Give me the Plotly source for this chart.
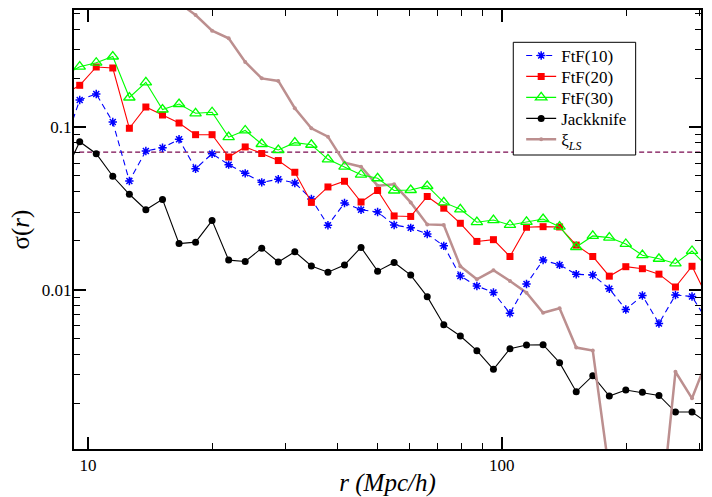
import plotly.graph_objects as go

# separation bins r (Mpc/h), log-spaced
r = [8.710, 9.550, 10.47, 11.48, 12.59, 13.80, 15.14, 16.60, 18.20, 19.95,
     21.88, 23.99, 26.30, 28.84, 31.62, 34.67, 38.02, 41.69, 45.71, 50.12,
     54.95, 60.26, 66.07, 72.44, 79.43, 87.10, 95.50, 104.7, 114.8, 125.9,
     138.0, 151.4, 166.0, 182.0, 199.5, 218.8, 239.9, 263.0, 288.4, 316.2]

ftf10 = [0.0743, 0.1466, 0.1595, 0.1073, 0.0466, 0.0712, 0.0746, 0.0840, 0.0554, 0.0685,
         0.0587, 0.0519, 0.0457, 0.0477, 0.0453, 0.0361, 0.0249, 0.0341, 0.0310, 0.0300,
         0.0250, 0.0240, 0.0220, 0.0186, 0.01214, 0.01054, 0.00961, 0.00716, 0.01084, 0.0152,
         0.0142, 0.01244, 0.01231, 0.01014, 0.00755, 0.00921, 0.00620, 0.00928, 0.00908, 0.00624]

ftf20 = [0.1573, 0.1804, 0.2338, 0.2305, 0.0982, 0.1327, 0.1185, 0.1058, 0.0897, 0.0897,
         0.0654, 0.0754, 0.0687, 0.0622, 0.0527, 0.0344, 0.0428, 0.0464, 0.0346, 0.0407,
         0.0284, 0.0282, 0.0374, 0.0317, 0.0256, 0.0198, 0.0203, 0.0160, 0.0242, 0.0244,
         0.0243, 0.0188, 0.0160, 0.01211, 0.01385, 0.01346, 0.01246, 0.01039, 0.01393, 0.00864]

ftf30 = [0.2058, 0.2348, 0.2484, 0.2713, 0.1518, 0.1883, 0.1281, 0.1385, 0.1214, 0.1233,
         0.0866, 0.0952, 0.0786, 0.0722, 0.0801, 0.0778, 0.0633, 0.0570, 0.0509, 0.0484,
         0.0407, 0.0410, 0.0434, 0.0344, 0.0312, 0.0260, 0.0268, 0.0250, 0.0261, 0.0272,
         0.0244, 0.0183, 0.0214, 0.0209, 0.0191, 0.0163, 0.0155, 0.0145, 0.0173, 0.0136]

jackknife = [0.0493, 0.0812, 0.0685, 0.0498, 0.0386, 0.0310, 0.0359, 0.0192, 0.0196, 0.0266,
             0.0152, 0.0149, 0.0180, 0.0148, 0.0171, 0.0140, 0.0128, 0.0142, 0.0182, 0.0130,
             0.0147, 0.0123, 0.00906, 0.00609, 0.00519, 0.00422, 0.00324, 0.00434, 0.00457, 0.00459,
             0.00356, 0.00236, 0.00296, 0.00222, 0.00242, 0.00234, 0.00224, 0.00177, 0.00177, 0.00150]

xi_ls = [None, None, None, None, None, None, None, 0.578, 0.488, 0.391,
         0.351, 0.251, 0.199, 0.192, 0.1305, 0.0982, 0.0872, 0.0603, 0.0570, 0.0436,
         0.0444, 0.0344, 0.0252, 0.0250, 0.01393, 0.01158, 0.01316, 0.01131, 0.00958, 0.00722,
         0.00768, 0.00441, 0.00423, 0.00075, None, None, 0.00032, 0.00313, 0.00215, 0.00391]

ref_level = 0.07

x_ticks = [10, 100]
x_ticktext = ["10", "100"]
x_minor = [20, 30, 40, 50, 60, 70, 80, 90, 200, 300]
y_ticks = [0.01, 0.1]
y_ticktext = ["0.01", "0.1"]
y_minor = [0.002, 0.003, 0.004, 0.005, 0.006, 0.007, 0.008, 0.009,
           0.02, 0.03, 0.04, 0.05, 0.06, 0.07, 0.08, 0.09, 0.2, 0.3, 0.4, 0.5]

SERIF = "'Liberation Serif', 'Times New Roman', Times, 'DejaVu Serif', serif"

fig = go.Figure()

# horizontal reference level
fig.add_trace(go.Scatter(
    x=[r[0], r[-1]], y=[ref_level, ref_level], mode="lines",
    line=dict(color="#7a0a50", width=1.2, dash="5px,3px"),
    showlegend=False, hoverinfo="skip"))

fig.add_trace(go.Scatter(
    x=r, y=jackknife, mode="lines+markers", name="Jackknife", legend="legend4",
    line=dict(color="black", width=1.1),
    marker=dict(symbol="circle", size=7, color="black")))

fig.add_trace(go.Scatter(
    x=r, y=xi_ls, mode="lines+markers", name="ξ<sub><i>LS</i></sub>", legend="legend5",
    line=dict(color="#bc8f8f", width=2.5),
    marker=dict(symbol="circle", size=4, color="#bc8f8f"),
    connectgaps=False))

fig.add_trace(go.Scatter(
    x=r, y=ftf10, mode="lines+markers", name="FtF(10)", legend="legend",
    line=dict(color="#0000ff", width=1.1, dash="6px,4px"),
    marker=dict(symbol="asterisk-open", size=7, line=dict(color="#0000ff", width=1.5))))

fig.add_trace(go.Scatter(
    x=r, y=ftf20, mode="lines+markers", name="FtF(20)", legend="legend2",
    line=dict(color="#ff0000", width=1.1),
    marker=dict(symbol="square", size=7, color="#ff0000")))

fig.add_trace(go.Scatter(
    x=r, y=ftf30, mode="lines+markers", name="FtF(30)", legend="legend3",
    line=dict(color="#00ff00", width=1.1),
    marker=dict(symbol="triangle-up-open", size=10, color="#00ff00",
                line=dict(color="#00ff00", width=1.3))))

axis_common = dict(
    type="log", showline=True, linewidth=2, linecolor="black", mirror="ticks",
    ticks="inside", ticklen=12, tickwidth=1.5, tickcolor="black",
    showgrid=False, zeroline=False, automargin=False,
    tickfont=dict(family=SERIF, size=17, color="black"),
)

fig.update_xaxes(
    **axis_common,
    range=[0.9662, 2.4817],
    tickmode="array", tickvals=x_ticks, ticktext=x_ticktext,
    minor=dict(ticks="inside", ticklen=6, tickwidth=1.2, tickcolor="black",
               tickmode="array", tickvals=x_minor, showgrid=False),
    title=dict(text="<i>r (Mpc/h)</i>", font=dict(family=SERIF, size=25, color="black"),
               standoff=10),
)

fig.update_yaxes(
    **axis_common,
    range=[-2.9791, -0.2809],
    tickmode="array", tickvals=y_ticks, ticktext=y_ticktext,
    ticklabelstandoff=-3,
    minor=dict(ticks="inside", ticklen=6, tickwidth=1.2, tickcolor="black",
               tickmode="array", tickvals=y_minor, showgrid=False),
    title=dict(text="σ(<i>r</i>)", font=dict(family=SERIF, size=25, color="black"),
               standoff=5),
)

# one legend per entry so rows can sit at a tight pitch inside a shared frame
legend_rows = [0.8955, 0.8477, 0.7999, 0.7521, 0.7043]
legend_style = dict(
    x=0.7132, xanchor="left", yanchor="middle",
    bgcolor="rgba(0,0,0,0)", borderwidth=0,
    font=dict(family=SERIF, size=17, color="black"),
)
fig.update_layout(
    legend=dict(y=legend_rows[0], **legend_style),
    legend2=dict(y=legend_rows[1], **legend_style),
    legend3=dict(y=legend_rows[2], **legend_style),
    legend4=dict(y=legend_rows[3], **legend_style),
    legend5=dict(y=legend_rows[4], **legend_style),
)

# legend frame
fig.add_shape(type="rect", xref="paper", yref="paper",
              x0=0.7006, x1=0.8958, y0=0.6697, y1=0.9264,
              fillcolor="white", line=dict(color="black", width=1), layer="above")

fig.update_layout(
    width=712, height=497,
    margin=dict(l=74, r=11, t=10, b=48),
    paper_bgcolor="white", plot_bgcolor="white",
    showlegend=True,
)

fig.write_html("out.html")
